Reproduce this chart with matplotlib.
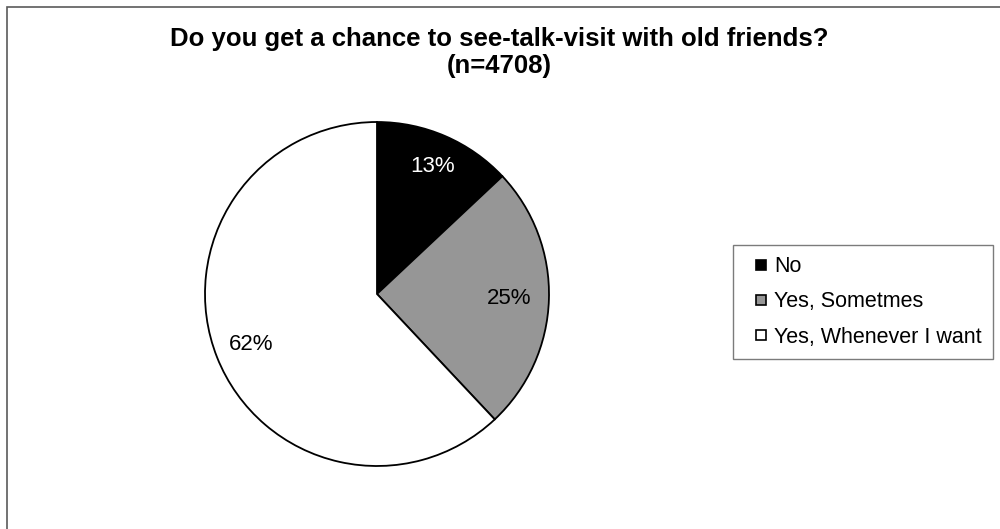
import matplotlib
matplotlib.use("Agg")
import matplotlib.pyplot as plt
from matplotlib.patches import Patch, Rectangle
from matplotlib.legend_handler import HandlerPatch
import numpy as np

plt.rcParams['font.family'] = ['Liberation Sans', 'DejaVu Sans']

# data
categories = ['No', 'Yes, Sometmes', 'Yes, Whenever I want']
shares = [13, 25, 62]
slice_colors = ['#000000', '#969696', '#ffffff']
label_colors = ['white', 'black', 'black']
label_dist = [0.81, 0.77, 0.79]
title = "Do you get a chance to see-talk-visit with old friends?\n(n=4708)"

W, H = 1000, 529
fig = plt.figure(figsize=(W / 100, H / 100), dpi=100)

# outer chart border (runs off the right/bottom of the image)
fig.patches.append(Rectangle((6.5 / W, -0.05), 1.1, 1 - 6.5 / H + 0.05,
                             transform=fig.transFigure, fill=False,
                             edgecolor='#5a5a5a', linewidth=1.2))

# pie axes placed around centre (377, 294), radius 172 px
cx, cy, r = 377, 294, 172
ax = fig.add_axes([(cx - r) / W, 1 - (cy + r) / H, 2 * r / W, 2 * r / H])
wedges, _ = ax.pie(shares, colors=slice_colors, startangle=90, counterclock=False,
                   radius=1, wedgeprops=dict(edgecolor='black', linewidth=1.3))
ax.set_xlim(-1, 1)
ax.set_ylim(-1, 1)
ax.axis('off')

for w, v, d, c in zip(wedges, shares, label_dist, label_colors):
    ang = np.deg2rad((w.theta1 + w.theta2) / 2)
    ax.text(d * np.cos(ang), d * np.sin(ang), f"{v}%", ha='center', va='center',
            fontsize=16, color=c)

fig.text(0.499, 1 - 52.5 / H, title, ha='center', va='center', fontsize=18.5,
         fontweight='bold', linespacing=1.12)


# small square legend marker, pushed to the right of the handle box
def square_marker(legend, orig_handle, xdescent, ydescent, width, height, fontsize):
    s = 7.2
    return Rectangle((width - xdescent - s, -ydescent + (height - s) / 2), s, s)


handles = [Patch(facecolor=c, edgecolor='black', linewidth=1.2) for c in slice_colors]
leg = fig.legend(handles, categories, loc='upper left',
                 bbox_to_anchor=(733 / W, 1 - 245 / H), fontsize=15.5,
                 frameon=True, fancybox=False, edgecolor='#5a5a5a',
                 handler_map={Patch: HandlerPatch(patch_func=square_marker)},
                 handlelength=1.03, handleheight=0.5, handletextpad=0.35,
                 labelspacing=0.66, borderpad=0.52, borderaxespad=0)
leg.get_frame().set_linewidth(1.0)

fig.savefig("out.png", dpi=100, facecolor='white')
